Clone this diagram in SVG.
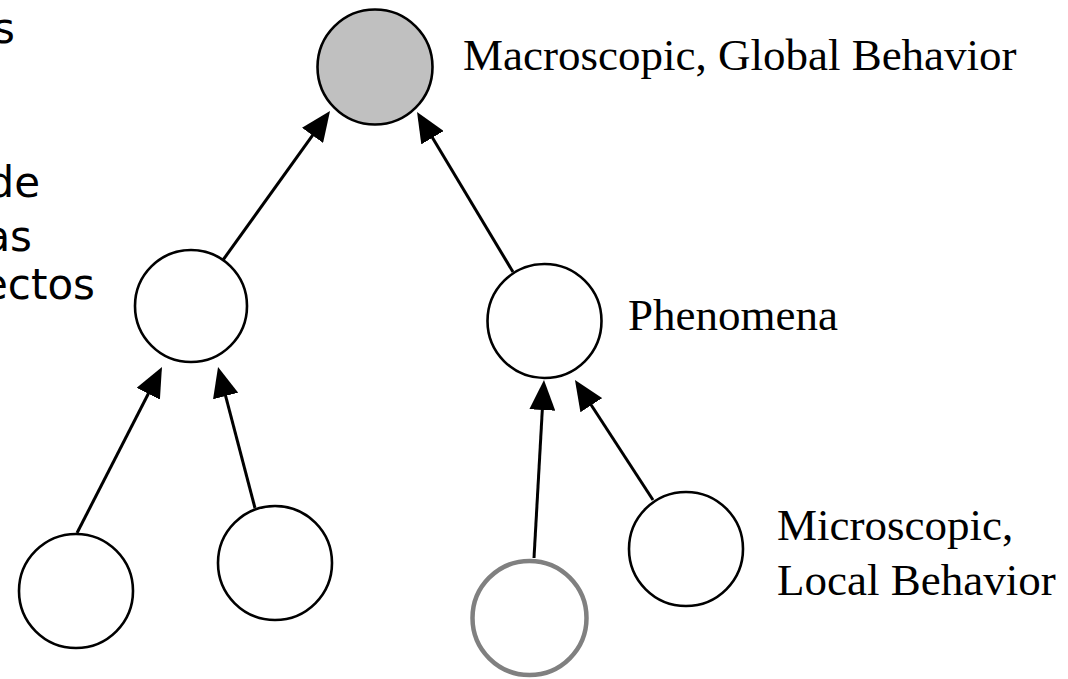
<svg xmlns="http://www.w3.org/2000/svg" width="1068" height="679" viewBox="0 0 1068 679">
<style>
.node{fill:#ffffff;stroke:#000000;stroke-width:2.6}
.gray{fill:#c0c0c0}
.hl{stroke:#808080;stroke-width:4.5}
.edge{stroke:#000000;stroke-width:3;fill:none;marker-end:url(#ah)}
.lbl{font-family:"Liberation Serif","Times New Roman",serif;font-size:45px;fill:#000}
.side{font-family:"DejaVu Sans","Noto Sans",sans-serif;font-size:42px;fill:#000;text-anchor:end}
</style>
<defs>
<marker id="ah" markerUnits="userSpaceOnUse" markerWidth="30" markerHeight="26" refX="25" refY="13" orient="auto">
<path d="M0,0 L30,13 L0,26 z" fill="#000"/>
</marker>
</defs>
<rect width="1068" height="679" fill="#ffffff"/>
<g id="side-text">
<text class="side" x="15" y="43">s</text>
<text class="side" x="40" y="197">de</text>
<text class="side" x="32" y="251">as</text>
<text class="side" x="95" y="299">ectos</text>
</g>
<g id="connectors">
<line class="edge" x1="223" y1="260" x2="327.1" y2="115.1"/>
<line class="edge" x1="513" y1="272" x2="419.6" y2="116.3"/>
<line class="edge" x1="77" y1="533" x2="159.7" y2="371.5"/>
<line class="edge" x1="255" y1="508" x2="219.3" y2="371.8"/>
<line class="edge" x1="534" y1="558" x2="543.7" y2="385"/>
<line class="edge" x1="653" y1="500" x2="577.7" y2="384.2"/>
</g>
<g id="top"><circle class="node gray" cx="375" cy="67" r="57.5"/></g>
<g id="left-mid"><circle class="node" cx="191" cy="306" r="56"/></g>
<g id="right-mid"><circle class="node" cx="544.5" cy="321" r="57"/></g>
<g id="bottom-1"><circle class="node" cx="76" cy="591" r="57"/></g>
<g id="bottom-2"><circle class="node" cx="275" cy="563" r="57"/></g>
<g id="bottom-3"><circle class="node hl" cx="529.5" cy="618" r="57"/></g>
<g id="bottom-4"><circle class="node" cx="686" cy="549" r="57"/></g>
<g id="labels">
<text class="lbl" x="463" y="70">Macroscopic, Global Behavior</text>
<text class="lbl" x="628" y="330">Phenomena</text>
<text class="lbl" x="777" y="540">Microscopic,</text>
<text class="lbl" x="777" y="595">Local Behavior</text>
</g>
</svg>
